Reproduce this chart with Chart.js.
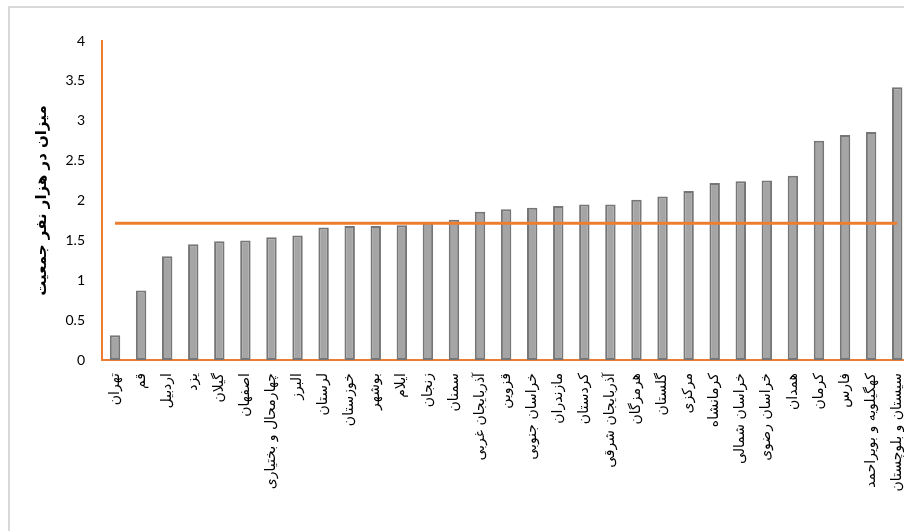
<!DOCTYPE html>
<html>
<head>
<meta charset="utf-8">
<script src="https://cdn.jsdelivr.net/npm/chart.js@4/dist/chart.umd.min.js"></script>
<style>
  html, body { margin: 0; padding: 0; background: #fff; overflow: hidden; }
  #wrap { position: relative; width: 904px; height: 531px; overflow: hidden; }
  #frame { position: absolute; left: 8px; top: 6px; width: 1000px; height: 600px;
           border-left: 2px solid #d9d9d9; border-top: 2px solid #d9d9d9; }
  #chart { position: absolute; left: 0; top: 0; }
</style>
</head>
<body>
<div id="wrap">
  <div id="frame"></div>
  <canvas id="chart" width="919" height="531"></canvas>
</div>
<script>
"use strict";
const provinces = [
    'تهران', 'قم', 'اردبیل', 'یزد', 'گیلان', 'اصفهان', 'چهارمحال و بختیاری', 'البرز',
    'لرستان', 'خوزستان', 'بوشهر', 'ایلام', 'زنجان', 'سمنان', 'آذربایجان غربی', 'قزوین',
    'خراسان جنوبی', 'مازندران', 'کردستان', 'آذربایجان شرقی', 'هرمزگان', 'گلستان', 'مرکزی',
    'کرمانشاه', 'خراسان شمالی', 'خراسان رضوی', 'همدان', 'کرمان', 'فارس',
    'کهگیلویه و بویراحمد', 'سیستان و بلوچستان'
];
const rates = [
    0.31, 0.87, 1.30, 1.45, 1.49, 1.50, 1.54, 1.56,
    1.66, 1.68, 1.68, 1.69, 1.72, 1.76, 1.86, 1.89,
    1.91, 1.93, 1.95, 1.95, 2.01, 2.05, 2.12,
    2.22, 2.24, 2.25, 2.31, 2.75, 2.82,
    2.86, 3.42
];
const averageRate = 1.715;
const yTicks = [0, 0.5, 1, 1.5, 2, 2.5, 3, 3.5, 4];
const yTitle = 'میزان در هزار نفر جمعیت';

const ctx = document.getElementById('chart').getContext('2d');

new Chart(ctx, {
    type: 'bar',
    data: {
        labels: provinces,
        datasets: [
            {
                type: 'line',
                label: 'average',
                data: provinces.map(() => averageRate),
                borderColor: '#ED7D31',
                borderWidth: 3,
                pointRadius: 0,
                fill: false,
                order: 0
            },
            {
                label: 'rate',
                data: rates,
                backgroundColor: '#A5A5A5',
                borderColor: '#767676',
                borderWidth: 2,
                borderSkipped: false,
                barPercentage: 0.4,
                categoryPercentage: 1,
                order: 1
            }
        ]
    },
    options: {
        responsive: false,
        animation: false,
        layout: {
            padding: { left: 33, top: 41, right: 0, bottom: 0 }
        },
        plugins: {
            legend: { display: false },
            title: { display: false },
            tooltip: { enabled: false }
        },
        scales: {
            x: {
                grid: { display: false },
                border: { color: '#ED7D31', width: 2 },
                ticks: {
                    autoSkip: false,
                    minRotation: 90,
                    maxRotation: 90,
                    padding: 5,
                    color: '#000',
                    font: { family: 'DejaVu Sans', size: 14 }
                },
                afterFit: scale => { scale.height = 171; }
            },
            y: {
                min: 0,
                max: 4,
                grid: { display: false, drawTicks: false },
                border: { color: '#ED7D31', width: 2 },
                afterBuildTicks: scale => {
                    scale.ticks = yTicks.map(v => ({ value: v }));
                },
                ticks: {
                    padding: 17,
                    color: '#000',
                    font: { family: 'Lato', size: 14 },
                    callback: value => String(value)
                },
                title: {
                    display: true,
                    text: yTitle,
                    color: '#000',
                    font: { family: 'DejaVu Sans', size: 15, weight: 'bold' },
                    padding: 0
                },
                afterFit: scale => { scale.width = 69; }
            }
        }
    }
});
</script>
</body>
</html>
